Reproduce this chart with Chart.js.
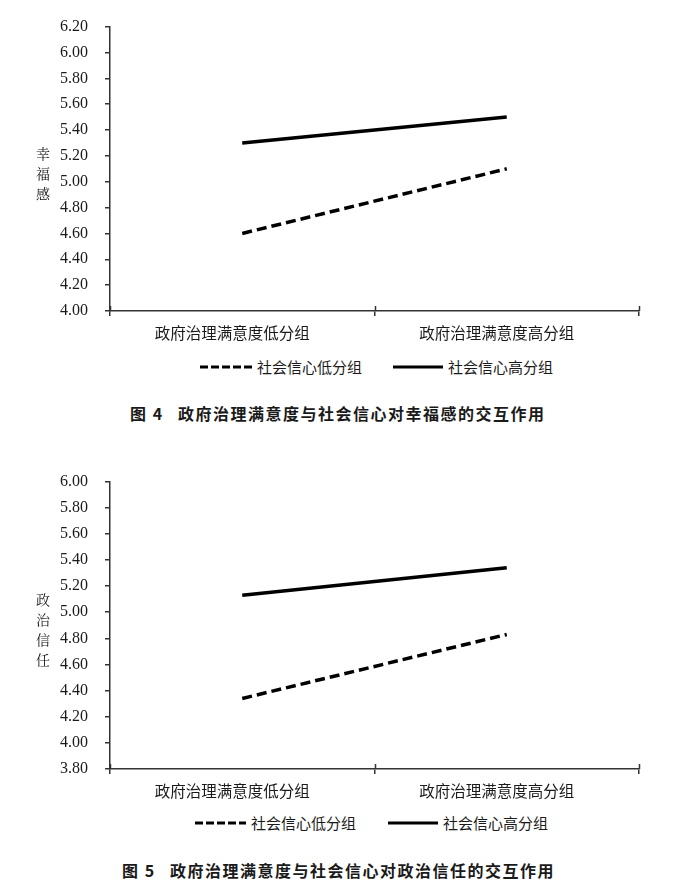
<!DOCTYPE html>
<html><head><meta charset="utf-8">
<script src="https://cdn.jsdelivr.net/npm/chart.js@4.4.1/dist/chart.umd.min.js"></script>
<style>
html,body{margin:0;padding:0;background:#fff}
body{width:692px;height:883px;position:relative;overflow:hidden;font-family:"Noto Sans CJK SC","Noto Sans",sans-serif;color:#1a1a1a}
canvas{position:absolute;left:0}
.yt{position:absolute;width:24px;text-align:center;font-size:14px;line-height:20px;font-family:"Noto Serif CJK SC","Noto Sans CJK SC",serif}
.lg{position:absolute;font-size:15px;line-height:20px;white-space:nowrap;height:20px}
.lg svg{position:absolute;left:0;top:0}
.lg span{position:absolute;top:0}
.cap{position:absolute;font-size:16px;line-height:22px;font-weight:bold;white-space:nowrap;letter-spacing:1.5px}
</style></head>
<body>
<canvas id="c1" width="692" height="350" style="top:0"></canvas>
<canvas id="c2" width="692" height="350" style="top:455px"></canvas>
<div id="ov"></div>
<script>
// ---- data ----
const categories = ['政府治理满意度低分组', '政府治理满意度高分组'];
const seriesNames = ['社会信心低分组', '社会信心高分组'];
const happinessLow = [4.60, 5.10];
const happinessHigh = [5.30, 5.50];
const trustLow = [4.34, 4.83];
const trustHigh = [5.13, 5.34];
const happinessTitle = '幸福感';
const trustTitle = '政治信任';
const caption4 = ['图 4', '政府治理满意度与社会信心对幸福感的交互作用'];
const caption5 = ['图 5', '政府治理满意度与社会信心对政治信任的交互作用'];

const dashPattern = [10, 5];

const crossTicks = {
  id: 'crossTicks',
  afterDraw(chart) {
    const x = chart.scales.x, ctx = chart.ctx;
    ctx.save();
    ctx.strokeStyle = '#333';
    ctx.lineWidth = 1.5;
    for (let i = 0; i <= chart.data.labels.length; i++) {
      const px = Math.round(x.getPixelForValue(i - 0.5)) + 0.5;
      ctx.beginPath();
      ctx.moveTo(px, x.top - 5);
      ctx.lineTo(px, x.top);
      ctx.stroke();
    }
    ctx.restore();
  }
};

function makeChart(id, low, high, yMin, yMax, xHeight) {
  return new Chart(document.getElementById(id), {
    type: 'line',
    data: {
      labels: categories,
      datasets: [
        { label: seriesNames[0], data: low, borderColor: '#000', borderWidth: 3.5, borderDash: dashPattern, pointRadius: 0, fill: false, tension: 0 },
        { label: seriesNames[1], data: high, borderColor: '#000', borderWidth: 3.5, pointRadius: 0, fill: false, tension: 0 }
      ]
    },
    options: {
      responsive: false,
      animation: false,
      devicePixelRatio: 1,
      layout: { padding: { top: 23, right: 53, left: 0, bottom: 0 } },
      plugins: { legend: { display: false }, tooltip: { enabled: false } },
      scales: {
        x: {
          type: 'category',
          offset: true,
          afterFit(s) { s.height = xHeight; },
          grid: { display: true, offset: true, drawOnChartArea: false, drawTicks: true, tickLength: 5, color: '#333', lineWidth: 1.5 },
          border: { display: true, color: '#333', width: 1.5 },
          ticks: { color: '#1a1a1a', padding: 8, maxRotation: 0, autoSkip: false, labelOffset: -10,
                   font: { family: 'Noto Sans CJK SC', size: 15.5 } }
        },
        y: {
          min: yMin, max: yMax,
          afterFit(s) { s.width = 110; },
          grid: { display: true, drawOnChartArea: false, drawTicks: true, tickLength: 5, color: '#333', lineWidth: 1.5 },
          border: { display: true, color: '#333', width: 1.5 },
          ticks: { stepSize: 0.2, padding: 17, color: '#1a1a1a',
                   font: { family: 'Liberation Serif', size: 16 },
                   callback: v => Number(v).toFixed(2) }
        }
      }
    },
    plugins: [crossTicks]
  });
}

makeChart('c1', happinessLow, happinessHigh, 4.0, 6.2, 39);
makeChart('c2', trustLow, trustHigh, 3.8, 6.0, 36);

// ---- overlay text ----
const ov = document.getElementById('ov');
function el(cls, html, left, top) {
  const d = document.createElement('div');
  d.className = cls; d.innerHTML = html;
  d.style.left = left + 'px'; d.style.top = top + 'px';
  ov.appendChild(d); return d;
}
function vtitle(text, x, yFirstCenter) {
  el('yt', text.split('').join('<br>'), x - 12, yFirstCenter - 10);
}
vtitle(happinessTitle, 43, 153);
vtitle(trustTitle, 43, 599);

function legend(yc, items) {
  items.forEach((it, i) => {
    const w = it.x1 - it.x0;
    const d = el('lg', '', it.x0, yc - 10);
    d.innerHTML = '<svg width="' + w + '" height="20"><line x1="0" y1="10" x2="' + w + '" y2="10" stroke="#000" stroke-width="3"' +
      (i === 0 ? ' stroke-dasharray="8,3"' : '') + '/></svg><span style="left:' + (w + 5) + 'px">' + seriesNames[i] + '</span>';
  });
}
legend(367, [{ x0: 200, x1: 252 }, { x0: 393, x1: 443 }]);
legend(823, [{ x0: 195, x1: 246 }, { x0: 388, x1: 438 }]);

el('cap', caption4[0], 130, 402);
el('cap', caption4[1], 178, 402);
el('cap', caption5[0], 122, 859);
el('cap', caption5[1], 170, 859);
</script>
</body></html>
